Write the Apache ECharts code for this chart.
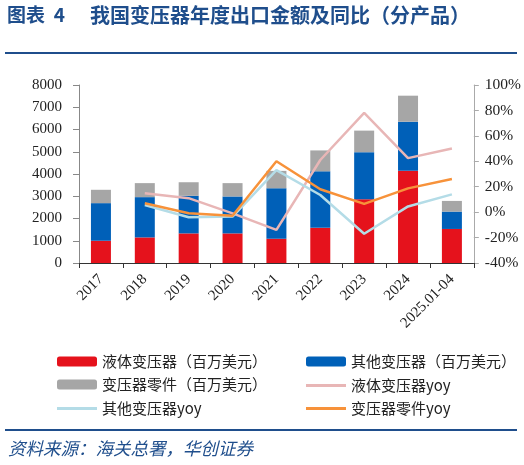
<!DOCTYPE html>
<html>
<head>
<meta charset="utf-8">
<script src="https://cdn.jsdelivr.net/npm/echarts@6/dist/echarts.min.js"></script>
<style>
html,body{margin:0;padding:0;background:#fff;}
#c{width:524px;height:465px;}
</style>
</head>
<body>
<div id="c"></div>
<script>
const categories = ['2017','2018','2019','2020','2021','2022','2023','2024','2025.01-04'];
const liquidValue = [1000,1150,1330,1330,1090,1580,2870,4150,1530];
const otherValue  = [1690,1810,1690,1660,2270,2540,2110,2200,780];
const partsValue  = [600,630,610,600,780,940,970,1170,480];
const liquidYoy = [null,14.8,11,-1,-14,41,78,42.5,50];
const otherYoy  = [null,5.6,-4,-3.5,33,13.5,-17,4.5,14];
const partsYoy  = [null,7,-0.8,-2.8,40,18,6.5,18.7,26];
const leftTicks = {min:0,max:8000,interval:1000};
const rightTicks = {min:-40,max:100,interval:20};

const serif = '"Liberation Serif","Times New Roman",serif';
const cjk = '"Noto Sans CJK SC","Noto Sans",sans-serif';
const titleBlue = '#1f4e8c';
const legendText = {fontFamily:cjk,fontSize:15,color:'#222'};

const chart = echarts.init(document.getElementById('c'));
chart.setOption({
  animation:false,
  backgroundColor:'#fff',
  grid:{left:79,right:45,top:85,bottom:202,containLabel:false},
  graphic:[
    {type:'text',left:7,top:5,style:{text:'图表  4',font:'bold 19px '+cjk,fill:titleBlue}},
    {type:'text',left:90,top:5,style:{text:'我国变压器年度出口金额及同比（分产品）',font:'bold 20px '+cjk,fill:titleBlue}},
    {type:'rect',shape:{x:5,y:52,width:512,height:2},style:{fill:titleBlue}},
    {type:'rect',shape:{x:5,y:429,width:512,height:2},style:{fill:titleBlue}},
    {type:'text',left:8,top:440,style:{text:'资料来源：海关总署，华创证券',font:'italic 17.5px '+cjk,fill:titleBlue}}
  ],
  legend:[
    {orient:'vertical',left:52,top:349,itemWidth:40,itemHeight:10,itemGap:8,textStyle:legendText,
     data:['液体变压器（百万美元）','变压器零件（百万美元）']},
    {orient:'vertical',left:301,top:349,itemWidth:40,itemHeight:10,itemGap:8,textStyle:legendText,
     data:['其他变压器（百万美元）']},
    {orient:'vertical',left:52,top:396,itemWidth:40,itemHeight:3,icon:'rect',textStyle:legendText,
     data:['其他变压器yoy']},
    {orient:'vertical',left:301,top:373,itemWidth:40,itemHeight:3,itemGap:8,icon:'rect',textStyle:legendText,
     data:['液体变压器yoy','变压器零件yoy']}
  ],
  xAxis:{type:'category',data:categories,
    axisLine:{lineStyle:{color:'#333',width:1}},
    axisTick:{show:true,lineStyle:{color:'#333'},length:5},
    axisLabel:{rotate:45,fontFamily:serif,fontSize:15,color:'#222',margin:14,interval:0}},
  yAxis:[
    {type:'value',min:leftTicks.min,max:leftTicks.max,interval:leftTicks.interval,
     axisLine:{show:true,lineStyle:{color:'#888'}},
     axisTick:{show:true,lineStyle:{color:'#888'},length:6},
     splitLine:{show:false},
     axisLabel:{fontFamily:serif,fontSize:15,color:'#222',margin:17,formatter:function(v){return String(v);}}},
    {type:'value',min:rightTicks.min,max:rightTicks.max,interval:rightTicks.interval,position:'right',
     axisLine:{show:true,lineStyle:{color:'#aaa'}},
     axisTick:{show:true,lineStyle:{color:'#aaa'},length:5},
     splitLine:{show:false},
     axisLabel:{fontFamily:serif,fontSize:15.5,color:'#222',margin:11,formatter:'{value}%'}}
  ],
  series:[
    {name:'液体变压器（百万美元）',type:'bar',stack:'a',barWidth:20,data:liquidValue,itemStyle:{color:'#e5121c'}},
    {name:'其他变压器（百万美元）',type:'bar',stack:'a',barWidth:20,data:otherValue,itemStyle:{color:'#0060b8'}},
    {name:'变压器零件（百万美元）',type:'bar',stack:'a',barWidth:20,data:partsValue,itemStyle:{color:'#a6a6a6'}},
    {name:'液体变压器yoy',type:'line',yAxisIndex:1,data:liquidYoy,symbol:'none',lineStyle:{color:'#e8b6b6',width:2.5},itemStyle:{color:'#e8b6b6'}},
    {name:'其他变压器yoy',type:'line',yAxisIndex:1,data:otherYoy,symbol:'none',lineStyle:{color:'#b4dce7',width:2.5},itemStyle:{color:'#b4dce7'}},
    {name:'变压器零件yoy',type:'line',yAxisIndex:1,data:partsYoy,symbol:'none',lineStyle:{color:'#f7923a',width:2.5},itemStyle:{color:'#f7923a'}}
  ]
});
</script>
</body>
</html>
